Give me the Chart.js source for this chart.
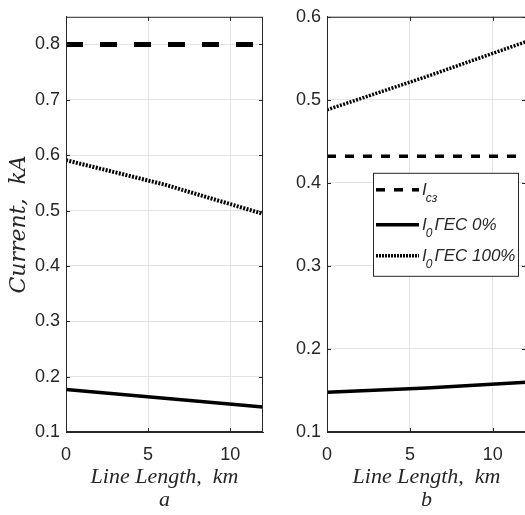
<!DOCTYPE html>
<html>
<head>
<meta charset="utf-8">
<script src="https://cdn.jsdelivr.net/npm/chart.js@4.4.1/dist/chart.umd.min.js"></script>
<style>
  html, body { margin: 0; padding: 0; background: #fff; overflow: hidden; }
  #wrap { position: relative; width: 525px; height: 515px; overflow: hidden; }
  #wrap canvas { position: absolute; top: 0; }
</style>
</head>
<body>
<div id="wrap">
  <canvas id="chartA" width="275" height="515" style="left:0px"></canvas>
  <canvas id="chartB" width="260" height="515" style="left:270px"></canvas>
</div>
<script>
// line length, km
const lengthKm = [0, 6, 12];

// panel a currents, kA
const iSzA = [0.8, 0.8, 0.8];
const iGes0A = [0.177, 0.161, 0.145];
const iGes100A = [0.591, 0.547, 0.494];

// panel b currents, kA
const iSzB = [0.432, 0.432, 0.432];
const iGes0B = [0.148, 0.153, 0.160];
const iGes100B = [0.488, 0.528, 0.570];

const seriesNames = ['I_сз', 'I_0 ГЕС 0%', 'I_0 ГЕС 100%'];
const xTicks = [0, 5, 10];
const yTicksA = [0.1, 0.2, 0.3, 0.4, 0.5, 0.6, 0.7, 0.8];
const yTicksB = [0.1, 0.2, 0.3, 0.4, 0.5, 0.6];

const INK = '#262626';
const GRID = '#e4e4e4';
const tickFont = { family: '"Liberation Sans", Arial, sans-serif', size: 18 };
const xTitleFont = { family: '"Liberation Serif", serif', size: 22, style: 'italic', lineHeight: 1.05 };
const yTitleFont = { family: '"DejaVu Serif", serif', size: 22, style: 'italic' };

// box round the plot area with small inward ticks, like a matlab axes
const framePlugin = {
  id: 'frame',
  afterDatasetsDraw(chart) {
    const { ctx, chartArea: a, scales } = chart;
    ctx.save();
    ctx.strokeStyle = INK;
    ctx.lineWidth = 1;
    ctx.strokeRect(a.left + 0.5, a.top + 0.5, a.right - a.left - 1, a.bottom - a.top - 1);
    ctx.beginPath();
    scales.y.ticks.forEach(t => {
      const y = Math.round(scales.y.getPixelForValue(t.value)) + 0.5;
      ctx.moveTo(a.left, y); ctx.lineTo(a.left + 4, y);
      ctx.moveTo(a.right, y); ctx.lineTo(a.right - 4, y);
    });
    scales.x.ticks.forEach(t => {
      const x = Math.round(scales.x.getPixelForValue(t.value)) + 0.5;
      ctx.moveTo(x, a.bottom); ctx.lineTo(x, a.bottom - 4);
      ctx.moveTo(x, a.top); ctx.lineTo(x, a.top + 4);
    });
    ctx.stroke();
    ctx.restore();
  }
};

// legend box with subscripted labels
const subLegendPlugin = {
  id: 'subLegend',
  afterDraw(chart, args, opts) {
    if (!opts.show) return;
    const { ctx, chartArea: a } = chart;
    const bx = a.left + 46, by = a.top + 156, bw = 145, bh = 103;
    const big = 'italic 17px "Liberation Sans", Arial, sans-serif';
    const small = 'italic 12px "Liberation Sans", Arial, sans-serif';
    ctx.save();
    ctx.fillStyle = '#fff';
    ctx.fillRect(bx, by, bw, bh);
    ctx.strokeStyle = INK;
    ctx.lineWidth = 1;
    ctx.strokeRect(bx + 0.5, by + 0.5, bw, bh);
    const rowY = [17, 52, 83];
    chart.data.datasets.forEach((ds, i) => {
      const y = by + rowY[i];
      ctx.beginPath();
      ctx.strokeStyle = ds.borderColor;
      ctx.lineWidth = ds.borderWidth;
      ctx.setLineDash(ds.legendDash || ds.borderDash || []);
      ctx.moveTo(bx + 3, y);
      ctx.lineTo(bx + 46, y);
      ctx.stroke();
      ctx.setLineDash([]);
      const m = ds.label.match(/^(.)_(\S+)\s*(.*)$/);
      let x = bx + 49;
      ctx.fillStyle = INK;
      ctx.textBaseline = 'alphabetic';
      ctx.font = big;
      ctx.fillText(m[1], x, y + 5);
      x += ctx.measureText(m[1]).width - 1;
      ctx.font = small;
      ctx.fillText(m[2], x, y + 12);
      x += ctx.measureText(m[2]).width + 2;
      ctx.font = big;
      ctx.fillText(m[3], x, y + 5);
    });
    ctx.restore();
  }
};

function makePanel(id, series, p) {
  const pts = vals => lengthKm.map((x, i) => ({ x: x, y: vals[i] }));
  return new Chart(document.getElementById(id), {
    type: 'line',
    data: {
      datasets: [
        { label: seriesNames[0], data: pts(series[0]), borderColor: '#000',
          borderWidth: p.dashWidth, borderDash: p.dash },
        { label: seriesNames[1], data: pts(series[1]), borderColor: '#000',
          borderWidth: 3.5 },
        { label: seriesNames[2], data: pts(series[2]), borderColor: '#000',
          borderWidth: p.dotWidth, borderDash: [2, 1.4], legendDash: [2, 1] }
      ]
    },
    options: {
      responsive: false,
      animation: false,
      elements: { point: { radius: 0 }, line: { tension: 0, borderCapStyle: 'butt' } },
      layout: { padding: { top: 15, right: p.padRight, left: 0, bottom: 0 } },
      plugins: {
        legend: { display: false },
        tooltip: { enabled: false },
        subLegend: { show: p.legend }
      },
      scales: {
        x: {
          type: 'linear', min: 0, max: 12,
          afterBuildTicks: s => { s.ticks = xTicks.map(v => ({ value: v })); },
          afterFit: s => { s.height = 83; },
          grid: { color: GRID, drawTicks: false },
          border: { display: true, color: INK },
          ticks: { font: tickFont, color: INK, padding: 12, maxRotation: 0 },
          title: { display: true, text: ['Line Length,  km', p.tag], font: xTitleFont,
                   color: INK, padding: { top: 0, bottom: 3 } }
        },
        y: {
          min: 0.1, max: p.yMax,
          afterBuildTicks: s => { s.ticks = p.yTicks.map(v => ({ value: v })); },
          afterFit: s => { s.width = p.yWidth; },
          grid: { color: GRID, drawTicks: false },
          border: { display: true, color: INK },
          ticks: { font: tickFont, color: INK, padding: 6, callback: v => v.toFixed(1) },
          title: { display: p.yTitle, text: 'Current,  kA', font: yTitleFont,
                   color: INK, padding: { top: 6, bottom: 0 } }
        }
      }
    },
    plugins: [framePlugin, subLegendPlugin]
  });
}

makePanel('chartA', [iSzA, iGes0A, iGes100A], {
  tag: 'a', yMax: 0.85, yTicks: yTicksA, yWidth: 66, padRight: 12,
  yTitle: true, legend: false, dash: [17, 17], dashWidth: 5, dotWidth: 4
});

makePanel('chartB', [iSzB, iGes0B, iGes100B], {
  tag: 'b', yMax: 0.6, yTicks: yTicksB, yWidth: 57, padRight: 4,
  yTitle: false, legend: true, dash: [9, 9], dashWidth: 3.5, dotWidth: 3.5
});
</script>
</body>
</html>
